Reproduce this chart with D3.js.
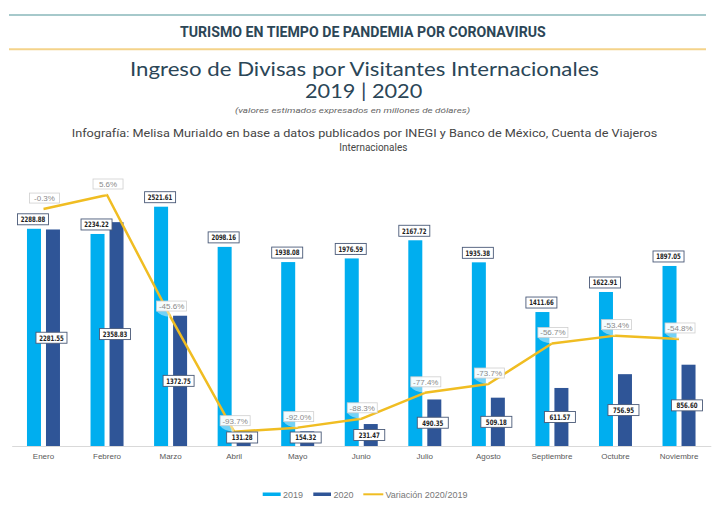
<!DOCTYPE html>
<html><head><meta charset="utf-8">
<script src="https://cdn.jsdelivr.net/npm/d3@7"></script>
<style>html,body{margin:0;padding:0;background:#fff;}svg{display:block;}</style>
</head><body>
<svg id="c" width="728" height="520"></svg>
<script>
const months = ["Enero","Febrero","Marzo","Abril","Mayo","Junio","Julio","Agosto","Septiembre","Octubre","Noviembre"];
const values2019 = [2288.88, 2234.22, 2521.61, 2098.16, 1938.08, 1976.59, 2167.72, 1935.38, 1411.66, 1622.91, 1897.05];
const values2020 = [2281.55, 2358.83, 1372.75, 131.28, 154.32, 231.47, 490.35, 509.18, 611.57, 756.95, 856.60];
const variation = [-0.3, 5.6, -45.6, -93.7, -92.0, -88.3, -77.4, -73.7, -56.7, -53.4, -54.8];
const legendLabels = ["2019", "2020", "Variación 2020/2019"];

const C19 = "#00aeef", C20 = "#2f5597", CL = "#f0bd22";
const svg = d3.select("#c");

function fitText(sel, x0, x1) {
  sel.attr("textLength", x1 - x0).attr("lengthAdjust", "spacingAndGlyphs");
}

// Header
svg.append("line").attr("x1", 9).attr("x2", 706).attr("y1", 15).attr("y2", 15)
  .attr("stroke", "#a6c9cb").attr("stroke-width", 2);
svg.append("line").attr("x1", 9).attr("x2", 706).attr("y1", 49.3).attr("y2", 49.3)
  .attr("stroke", "#f4d38a").attr("stroke-width", 2);
fitText(svg.append("text").attr("x", 180).attr("y", 36.7)
  .attr("font-family", "Roboto").attr("font-weight", 700).attr("font-size", 14)
  .attr("fill", "#2c4656").text("TURISMO EN TIEMPO DE PANDEMIA POR CORONAVIRUS"), 180, 545.7);

fitText(svg.append("text").attr("x", 130).attr("y", 75.8)
  .attr("font-family", "Lato").attr("font-weight", 400).attr("font-size", 18.5)
  .attr("fill", "#2b4657").text("Ingreso de Divisas por Visitantes Internacionales"), 130, 599);
fitText(svg.append("text").attr("x", 305).attr("y", 97.5)
  .attr("font-family", "Lato").attr("font-weight", 400).attr("font-size", 18.5)
  .attr("fill", "#2b4657").text("2019 | 2020"), 305, 422.3);
fitText(svg.append("text").attr("x", 235).attr("y", 112.7)
  .attr("font-family", "Roboto").attr("font-style", "italic").attr("font-size", 7.5)
  .attr("fill", "#666").text("(valores estimados expresados en millones de dólares)"), 235, 470);
fitText(svg.append("text").attr("x", 71.7).attr("y", 137)
  .attr("font-family", "Roboto").attr("font-size", 11.5)
  .attr("fill", "#454545").text("Infografía: Melisa Murialdo en base a datos publicados por INEGI y Banco de México, Cuenta de Viajeros"), 71.7, 657.3);
fitText(svg.append("text").attr("x", 339.3).attr("y", 150.5)
  .attr("font-family", "Roboto").attr("font-size", 11)
  .attr("fill", "#454545").text("Internacionales"), 339.3, 407.3);

// Scales
const x = d3.scaleBand().domain(months).range([11.7, 710.8]).padding(0);
const y = d3.scaleLinear().domain([0, 3000]).range([446, 161.3]);
const yp = d3.scaleLinear().domain([-100, 0]).range([446.7, 208.35]);
const bw = 14;
const cx = m => x(m) + x.bandwidth() / 2;

// Axis
const axis = d3.axisBottom(x).tickSize(0).tickPadding(7);
const ag = svg.append("g").attr("transform", "translate(0,446)").call(axis);
ag.select(".domain").attr("stroke", "#d9d9d9").attr("stroke-width", 1);
ag.selectAll("text").attr("font-family", "Liberation Sans, Arial").attr("font-size", 8).attr("fill", "#595959");

// Bars
svg.append("g").selectAll("rect").data(months).join("rect")
  .attr("x", (m) => cx(m) - 16.5).attr("width", bw)
  .attr("y", (m, i) => y(values2019[i])).attr("height", (m, i) => y(0) - y(values2019[i]))
  .attr("fill", C19);
svg.append("g").selectAll("rect").data(months).join("rect")
  .attr("x", (m) => cx(m) + 2.5).attr("width", bw)
  .attr("y", (m, i) => y(values2020[i])).attr("height", (m, i) => y(0) - y(values2020[i]))
  .attr("fill", C20);

// Line
const line = d3.line().x((d, i) => cx(months[i])).y(d => yp(d));
svg.append("path").datum(variation).attr("d", line)
  .attr("fill", "none").attr("stroke", CL).attr("stroke-width", 2.5).attr("stroke-linejoin", "round");

// Value labels
function valueBox(g, xc, yc, txt) {
  const w = 31, h = 11;
  g.append("rect").attr("x", xc - w / 2).attr("y", yc - h / 2).attr("width", w).attr("height", h)
    .attr("fill", "#fff").attr("stroke", "#4a5a78").attr("stroke-width", 0.9);
  const tl = txt.length * 3.5;
  g.append("text").attr("x", xc - tl / 2).attr("y", yc + 2.8)
    .attr("font-family", "DejaVu Sans Condensed, DejaVu Sans").attr("font-weight", 700).attr("font-size", 7.5)
    .attr("fill", "#222").attr("textLength", tl).attr("lengthAdjust", "spacingAndGlyphs").text(txt);
}
const lg = svg.append("g");
months.forEach((m, i) => {
  valueBox(lg, cx(m) - 10.5, y(values2019[i]) - 9.5, values2019[i].toFixed(2));
  const mid = (y(values2020[i]) + y(0)) / 2;
  valueBox(lg, cx(m) + 8, Math.min(mid, 437.5), values2020[i].toFixed(2));
});

// Percent callouts
const pg = svg.append("g");
variation.forEach((v, i) => {
  const px = cx(months[i]), py = yp(v);
  const bx = px + 1, by = py - 11;
  const w = 30, h = 10;
  const x0 = bx - w / 2, y1 = by + h / 2;
  pg.append("path")
    .attr("d", `M${x0},${y1} Q${x0 + 3},${py - 1} ${px},${py} L${bx - 2},${y1} Z`)
    .attr("fill", "#fff").attr("fill-opacity", 0.45);
  pg.append("rect").attr("x", x0).attr("y", by - h / 2).attr("width", w).attr("height", h)
    .attr("fill", "#fff").attr("fill-opacity", 0.95).attr("stroke", "#cfcfcf").attr("stroke-width", 0.8);
  pg.append("text").attr("x", bx).attr("y", by + 3).attr("text-anchor", "middle")
    .attr("font-family", "Liberation Sans, Arial").attr("font-size", 8).attr("fill", "#8a8a8a")
    .text(v.toFixed(1) + "%");
});

// Legend
const leg = svg.append("g");
const items = [
  {x0: 262.7, x1: 280.7, tx: 283, color: C19, type: "rect"},
  {x0: 313.3, x1: 331, tx: 333.5, color: C20, type: "rect"},
  {x0: 363.3, x1: 383.3, tx: 385.5, color: CL, type: "line"}
];
items.forEach((it, i) => {
  if (it.type === "rect") {
    leg.append("rect").attr("x", it.x0).attr("y", 492.5).attr("width", it.x1 - it.x0).attr("height", 3.5).attr("fill", it.color);
  } else {
    leg.append("line").attr("x1", it.x0).attr("x2", it.x1).attr("y1", 494.3).attr("y2", 494.3)
      .attr("stroke", it.color).attr("stroke-width", 2);
  }
  leg.append("text").attr("x", it.tx).attr("y", 497.5)
    .attr("font-family", "Liberation Sans, Arial").attr("font-size", 9).attr("fill", "#777")
    .text(legendLabels[i]);
});
</script>
</body></html>
